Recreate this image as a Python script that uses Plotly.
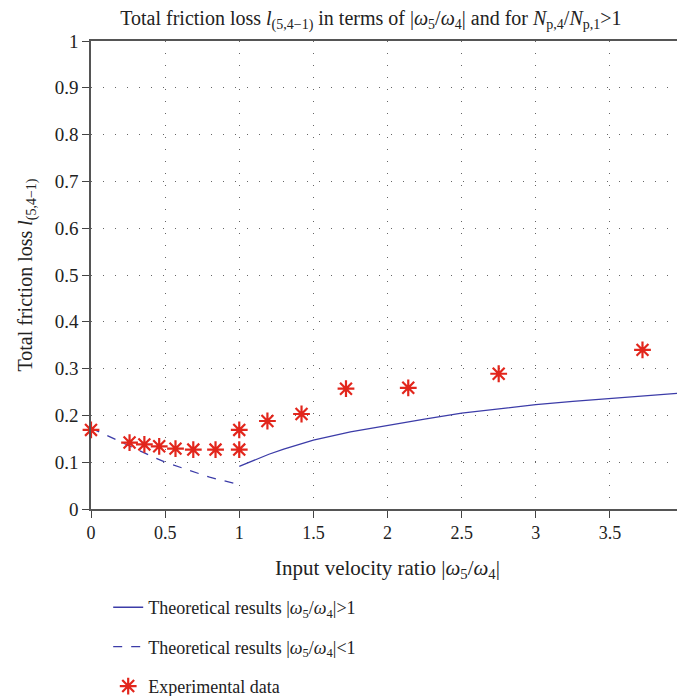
import plotly.graph_objects as go

# Experimental data
exp_x = [0.0, 0.26, 0.36, 0.46, 0.57, 0.69, 0.84, 1.0, 1.0, 1.19, 1.42, 1.72, 2.14, 2.75, 3.72]
exp_y = [0.169, 0.142, 0.138, 0.134, 0.129, 0.127, 0.127, 0.169, 0.127, 0.188, 0.203, 0.257, 0.259, 0.289, 0.340]

# Theoretical |w5/w4| < 1 (dashed)
low_x = [0.0, 0.1, 0.2, 0.3, 0.4, 0.5, 0.6, 0.7, 0.8, 0.9, 1.0]
low_y = [0.173, 0.158, 0.143, 0.128, 0.114, 0.100, 0.089, 0.078, 0.068, 0.060, 0.052]

# Theoretical |w5/w4| > 1 (solid)
high_x = [1.0, 1.1, 1.2, 1.3, 1.4, 1.5, 1.75, 2.0, 2.25, 2.5, 2.75, 3.0, 3.25, 3.5, 3.75, 4.0]
high_y = [0.091, 0.104, 0.117, 0.128, 0.138, 0.147, 0.165, 0.179, 0.192, 0.205, 0.214, 0.223, 0.230, 0.236, 0.242, 0.248]

x_ticks = [0, 0.5, 1, 1.5, 2, 2.5, 3, 3.5, 4]
x_tick_text = ["0", "0.5", "1", "1.5", "2", "2.5", "3", "3.5", "4"]
y_ticks = [0, 0.1, 0.2, 0.3, 0.4, 0.5, 0.6, 0.7, 0.8, 0.9, 1.0]
y_tick_text = ["0", "0.1", "0.2", "0.3", "0.4", "0.5", "0.6", "0.7", "0.8", "0.9", "1"]

FONT = "Liberation Serif, Times New Roman, serif"
BLUE = "#3c3ca8"
RED = "#e2261c"

fig = go.Figure()
fig.add_trace(go.Scatter(
    x=high_x, y=high_y, mode="lines",
    line=dict(color=BLUE, width=1.3),
    name="Theoretical results |<i>ω</i><sub>5</sub>/<i>ω</i><sub>4</sub>|>1",
    legendgroup="a"))
fig.add_trace(go.Scatter(
    x=low_x, y=low_y, mode="lines",
    line=dict(color=BLUE, width=1.3, dash="dash"),
    name="Theoretical results |<i>ω</i><sub>5</sub>/<i>ω</i><sub>4</sub>|<1",
    legendgroup="b"))
fig.add_trace(go.Scatter(
    x=exp_x, y=exp_y, mode="markers",
    marker=dict(symbol="asterisk-open", size=14, color=RED, line=dict(color=RED, width=2.2)),
    name="Experimental data",
    legendgroup="c", cliponaxis=False))

fig.update_layout(
    width=677, height=688,
    margin=dict(l=83, r=1, t=33, b=187, autoexpand=False),
    paper_bgcolor="white", plot_bgcolor="white",
    font=dict(family=FONT, size=18, color="#222"),
    title=dict(
        text="Total friction loss <i>l</i><sub>(5,4−1)</sub> in terms of |<i>ω</i><sub>5</sub>/<i>ω</i><sub>4</sub>| and for <i>N</i><sub>p,4</sub>/<i>N</i><sub>p,1</sub>>1",
        x=0.536, xanchor="center", y=0.986, yanchor="middle",
        font=dict(family=FONT, size=20, color="#222")),
    showlegend=True,
    legend=dict(
        x=0.029, xanchor="left", y=-0.171, yanchor="top",
        font=dict(family=FONT, size=18, color="#222"),
        traceorder="grouped", tracegroupgap=13,
        bgcolor="rgba(0,0,0,0)"),
)

fig.update_xaxes(
    range=[0, 4], tickvals=x_ticks, ticktext=x_tick_text,
    showgrid=True, gridcolor="#666", griddash="1px,11px", gridwidth=1,
    showline=True, linecolor="#555", linewidth=1.5, mirror=True,
    ticks="outside", ticklen=7, tickcolor="#444", tickwidth=1.2,
    zeroline=False, automargin=False,
    title=dict(text="Input velocity ratio |<i>ω</i><sub>5</sub>/<i>ω</i><sub>4</sub>|",
               font=dict(family=FONT, size=21), standoff=18),
    tickfont=dict(family=FONT, size=18))
fig.update_yaxes(
    range=[0, 1], tickvals=y_ticks, ticktext=y_tick_text,
    showgrid=True, gridcolor="#666", griddash="1px,11px", gridwidth=1,
    showline=True, linecolor="#555", linewidth=1.5, mirror=True,
    ticks="outside", ticklen=7, tickcolor="#444", tickwidth=1.2,
    zeroline=False, automargin=False,
    title=dict(text="Total friction loss <i>l</i><sub>(5,4−1)</sub>",
               font=dict(family=FONT, size=20), standoff=17),
    tickfont=dict(family=FONT, size=19))

fig.write_html("out.html")
